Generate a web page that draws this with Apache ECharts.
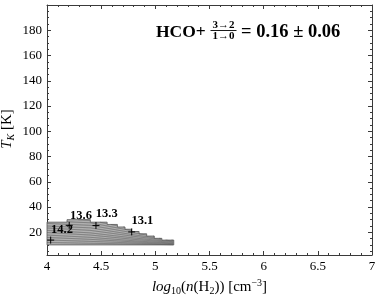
<!DOCTYPE html>
<html><head><meta charset="utf-8">
<script src="https://cdn.jsdelivr.net/npm/echarts@6/dist/echarts.min.js"></script>
<style>html,body{margin:0;padding:0;background:#fff}#c{width:382px;height:301px}</style>
</head><body><div id="c"></div>
<script>
// ---- data ----
const xRange = [4, 7];
const yRange = [2, 200];
const yTickValues = [20, 40, 60, 80, 100, 120, 140, 160, 180];
// step boundaries of the shaded (allowed) region
const stepX   = [4.00, 4.185, 4.40, 4.555, 4.65, 4.72, 4.78, 4.85, 4.92, 4.99, 5.06, 5.17];
const stepTop = [28, 30, 28, 26.2, 24.2, 22.4, 20.6, 18.8, 17, 15.2, 13.8];
const regionBottom = 10;
// contour lines inside the region
const contour1  = [[4.05, 31], [4.4, 29.5], [4.8, 22.5], [5.2, 15.5]];
const contour2  = [[4.0, 29],  [4.4, 27.5], [4.8, 21],   [5.2, 14.5]];
const contour3  = [[4.0, 27],  [4.4, 25.5], [4.8, 19.5], [5.2, 13.8]];
const contour4  = [[4.0, 25],  [4.4, 23.5], [4.8, 18],   [5.2, 13.2]];
const contour5  = [[4.0, 23.4],[4.4, 21.5], [4.8, 16.8], [5.2, 12.7]];
const contour6  = [[4.0, 21.5],[4.4, 19.5], [4.8, 15.5], [5.2, 12.2]];
const contour7  = [[4.0, 19.8],[4.4, 17.8], [4.8, 14.4], [5.2, 11.7]];
const contour8  = [[4.0, 17.8],[4.4, 16],   [4.8, 13.3], [5.2, 11.2]];
const contour9  = [[4.0, 15.9],[4.4, 14.4], [4.8, 12.4], [5.2, 10.8]];
const contour10 = [[4.0, 13.9],[4.4, 12.8], [4.8, 11.5], [5.2, 10.4]];
const contour11 = [[4.0, 11.9],[4.4, 11.3], [4.8, 10.7], [5.2, 10.1]];
const contourLines = [contour1, contour2, contour3, contour4, contour5, contour6,
                      contour7, contour8, contour9, contour10, contour11];
const contourLabelX = [4.138, 4.314, 4.551, 4.88];
const contourLabelY = [22.3, 33.1, 34.4, 29.2];
const contourLabelText = ['14.2', '13.6', '13.3', '13.1'];
const crossX = [4.034, 4.205, 4.452, 4.782];
const crossY = [13.8, 25.5, 25.4, 20.3];

// ---- build ----
const yMinorValues = [];
for (let v = 5; v < yRange[1]; v += 5) if (v % 20 !== 0 && v > yRange[0]) yMinorValues.push(v);

function inside(p, poly) {
  let c = false;
  for (let i = 0, j = poly.length - 1; i < poly.length; j = i++) {
    const xi = poly[i][0], yi = poly[i][1], xj = poly[j][0], yj = poly[j][1];
    if (((yi > p[1]) !== (yj > p[1])) && (p[0] < (xj - xi) * (p[1] - yi) / (yj - yi) + xi)) c = !c;
  }
  return c;
}

function renderRegion(params, api) {
  const poly = [api.coord([stepX[0], regionBottom])];
  for (let i = 0; i < stepTop.length; i++) {
    poly.push(api.coord([stepX[i], stepTop[i]]));
    poly.push(api.coord([stepX[i + 1], stepTop[i]]));
  }
  poly.push(api.coord([stepX[stepX.length - 1], regionBottom]));
  const children = [{type: 'polygon', shape: {points: poly}, style: {fill: '#b0b0b0', stroke: null}}];
  contourLines.forEach(line => {
    const pts = line.map(p => api.coord(p));
    let run = [];
    const runs = [];
    for (let s = 0; s < pts.length - 1; s++) {
      const a = pts[s], b = pts[s + 1];
      const n = 80;
      for (let k = (s > 0 ? 1 : 0); k <= n; k++) {
        const t = k / n;
        const p = [a[0] + (b[0] - a[0]) * t, a[1] + (b[1] - a[1]) * t];
        if (inside(p, poly)) run.push(p);
        else { if (run.length > 1) runs.push(run); run = []; }
      }
    }
    if (run.length > 1) runs.push(run);
    runs.forEach(r => children.push({type: 'polyline', shape: {points: r},
      style: {stroke: '#606060', lineWidth: 0.7, fill: null}}));
  });
  children.push({type: 'polygon', shape: {points: poly}, style: {fill: null, stroke: '#555', lineWidth: 0.8}});
  return {type: 'group', children};
}

const serif = '"Liberation Serif", "Times New Roman", serif';
const frameColor = '#3a3a3a';

function xAxisDef(pos, labels) {
  return {
    type: 'value', position: pos, min: xRange[0], max: xRange[1], interval: 0.5,
    axisLine: {show: true, onZero: false, lineStyle: {color: frameColor, width: 1}},
    axisTick: {show: true, inside: true, length: 4, lineStyle: {color: frameColor}},
    minorTick: {show: true, splitNumber: 5, length: 2, lineStyle: {color: frameColor}},
    axisLabel: {show: labels, color: '#000', fontFamily: serif, fontSize: 13, margin: 5},
    splitLine: {show: false}, minorSplitLine: {show: false}
  };
}
function yAxisDef(pos, major, labels) {
  return {
    type: 'value', position: pos, min: yRange[0], max: yRange[1], offset: 0,
    axisLine: {show: major, onZero: false, lineStyle: {color: frameColor, width: 1}},
    axisTick: {show: true, inside: true, length: major ? 4 : 2,
      customValues: major ? yTickValues : yMinorValues, lineStyle: {color: frameColor}},
    axisLabel: {show: labels, customValues: yTickValues, color: '#000', fontFamily: serif, fontSize: 13, margin: 5},
    splitLine: {show: false}
  };
}

const xA = xAxisDef('bottom', true);
xA.name = '{i|log}{sub|10}({i|n}(H{sub|2})) [cm{sup|−3}]';
xA.nameLocation = 'middle';
xA.nameGap = 23;
xA.nameTextStyle = {color: '#000', fontFamily: serif, fontSize: 15,
  rich: {
    i: {fontStyle: 'italic', fontFamily: serif, fontSize: 15, color: '#000'},
    sub: {fontSize: 10, fontFamily: serif, color: '#000', padding: [8, 0, 0, 0]},
    sup: {fontSize: 10, fontFamily: serif, color: '#000', padding: [0, 0, 8, 0]}
  }};

const option = {
  animation: false,
  backgroundColor: '#fff',
  grid: {left: 47, right: 10, top: 5, bottom: 39, containLabel: false},
  xAxis: [xA, xAxisDef('top', false)],
  yAxis: [yAxisDef('left', true, true), yAxisDef('left', false, false),
          yAxisDef('right', true, false), yAxisDef('right', false, false)],
  graphic: [
    {type: 'text', x: 156, y: 32, style: {text: 'HCO+', fontFamily: serif, fontWeight: 'bold', fontSize: 17.5, fill: '#000', align: 'left', verticalAlign: 'middle'}},
    {type: 'text', x: 223.5, y: 25.3, style: {text: '3→2', fontFamily: serif, fontWeight: 'bold', fontSize: 11, fill: '#000', align: 'center', verticalAlign: 'middle'}},
    {type: 'line', shape: {x1: 210.5, y1: 30.5, x2: 236.5, y2: 30.5}, style: {stroke: '#000', lineWidth: 0.9}},
    {type: 'text', x: 223.5, y: 36.2, style: {text: '1→0', fontFamily: serif, fontWeight: 'bold', fontSize: 11, fill: '#000', align: 'center', verticalAlign: 'middle'}},
    {type: 'text', x: 241, y: 32, style: {text: '= 0.16 ± 0.06', fontFamily: serif, fontWeight: 'bold', fontSize: 18.5, fill: '#000', align: 'left', verticalAlign: 'middle'}},
    {type: 'text', x: 7.5, y: 129, rotation: Math.PI / 2,
      style: {text: '{i|T}{sub|K} [K]', fontFamily: serif, fontSize: 15, fill: '#000', align: 'center', verticalAlign: 'middle',
        rich: {i: {fontStyle: 'italic', fontFamily: serif, fontSize: 15, fill: '#000'},
               sub: {fontStyle: 'italic', fontFamily: serif, fontSize: 10, fill: '#000', padding: [7, 0, 0, 0]}}}}
  ],
  series: [
    {type: 'custom', xAxisIndex: 0, yAxisIndex: 0, data: [[stepX[0], regionBottom]], renderItem: renderRegion, silent: true, z: 2},
    {type: 'custom', xAxisIndex: 0, yAxisIndex: 0, silent: true, z: 3,
      data: crossX.map((x, i) => [x, crossY[i]]),
      renderItem: (params, api) => {
        const c = api.coord([api.value(0), api.value(1)]);
        const h = 3.5;
        return {type: 'group', children: [
          {type: 'line', shape: {x1: c[0] - h, y1: c[1], x2: c[0] + h, y2: c[1]}, style: {stroke: '#000', lineWidth: 1}},
          {type: 'line', shape: {x1: c[0], y1: c[1] - h, x2: c[0], y2: c[1] + h}, style: {stroke: '#000', lineWidth: 1}}
        ]};
      }},
    {type: 'custom', xAxisIndex: 0, yAxisIndex: 0, silent: true, z: 4,
      data: contourLabelX.map((x, i) => [x, contourLabelY[i], i]),
      renderItem: (params, api) => {
        const c = api.coord([api.value(0), api.value(1)]);
        return {type: 'text', x: c[0], y: c[1], style: {text: contourLabelText[api.value(2)],
          fontFamily: serif, fontWeight: 'bold', fontSize: 12.5, fill: '#000', align: 'center', verticalAlign: 'middle'}};
      }}
  ]
};
const chart = echarts.init(document.getElementById('c'), null, {renderer: 'canvas'});
chart.setOption(option);
</script></body></html>
